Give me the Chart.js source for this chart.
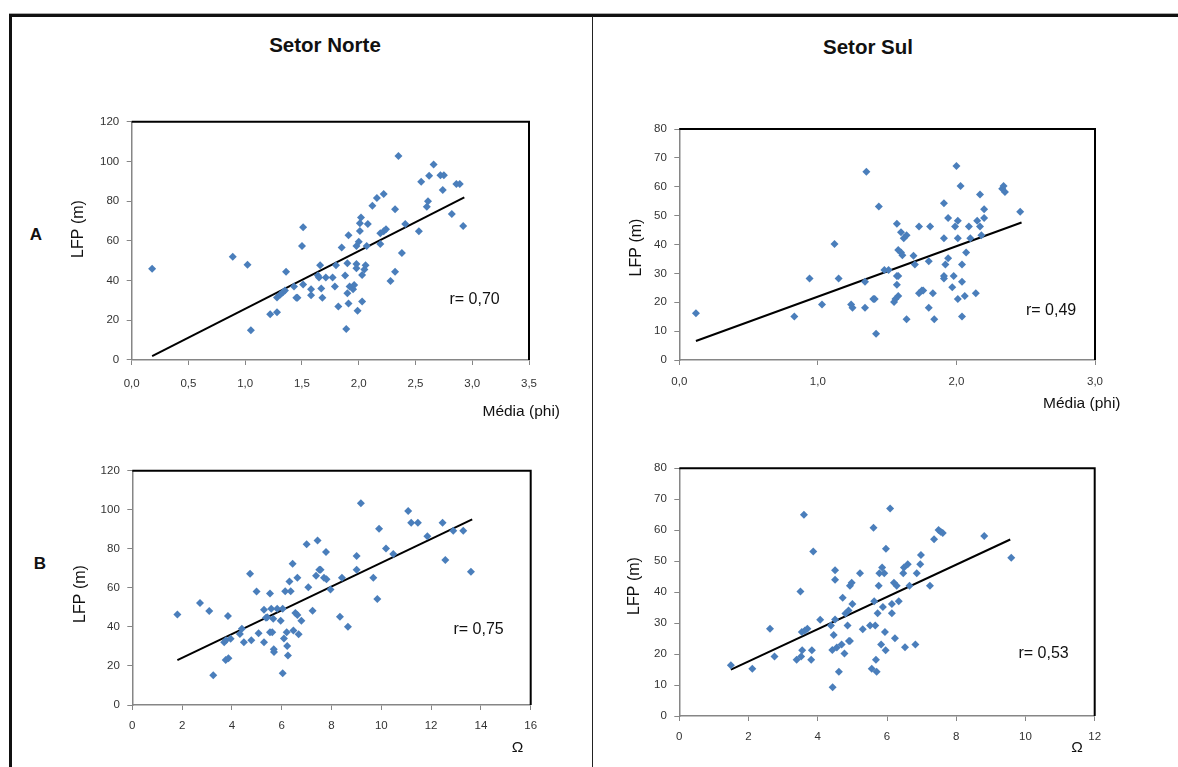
<!DOCTYPE html>
<html>
<head>
<meta charset="utf-8">
<script src="https://cdn.jsdelivr.net/npm/chart.js@4.4.0/dist/chart.umd.min.js"></script>
<style>
  body { margin: 0; background: #fff; }
  #page { position: relative; width: 1178px; height: 767px; overflow: hidden; background: #fff; font-family: 'Liberation Sans', Arial, sans-serif; }
  #page canvas { position: absolute; left: 0; top: 0; }
  .line { position: absolute; background: #111; }
  .title { position: absolute; font-weight: bold; font-size: 20.5px; color: #111; transform: translate(-50%, -50%); white-space: nowrap; }
  .row { position: absolute; font-weight: bold; font-size: 17px; color: #111; transform: translate(-50%, -50%); }
</style>
</head>
<body>
<div id="page">
  <div class="line" style="left:9px; top:13px; width:1169px; height:1px; background:#aaa;"></div>
  <div class="line" style="left:9px; top:14px; width:1169px; height:3px;"></div>
  <div class="line" style="left:9px; top:14px; width:3px; height:753px;"></div>
  <div class="line" style="left:592px; top:16px; width:1px; height:751px; background:#222;"></div>
  <div class="title" style="left:325px; top:45px;">Setor Norte</div>
  <div class="title" style="left:868px; top:47px;">Setor Sul</div>
  <div class="row" style="left:36px; top:235px;">A</div>
  <div class="row" style="left:40px; top:564px;">B</div>
  <canvas id="chartAN" width="1178" height="767"></canvas>
  <canvas id="chartAS" width="1178" height="767"></canvas>
  <canvas id="chartBN" width="1178" height="767"></canvas>
  <canvas id="chartBS" width="1178" height="767"></canvas>
</div>
<script>
// ---- data ----

// A / Setor Norte : Média (phi) vs LFP (m)
const norteMediaX = [
  0.18, 0.89, 1.02, 1.05, 1.22, 1.28, 1.28, 1.31, 1.33, 1.35,
  1.36, 1.43, 1.45, 1.46, 1.51, 1.50, 1.51, 1.58, 1.58, 1.64,
  1.65, 1.66, 1.67, 1.68, 1.71, 1.77, 1.79, 1.80, 1.82, 1.85,
  1.88, 1.89, 1.91, 1.90, 1.90, 1.91, 1.92, 1.95, 1.96, 1.98,
  1.98, 1.99, 1.98, 2.00, 2.01, 2.02, 2.01, 2.03, 2.03, 2.05,
  2.06, 2.07, 2.08, 2.12, 2.16, 2.19, 2.19, 2.22, 2.22, 2.24,
  2.28, 2.32, 2.32, 2.35, 2.38, 2.41, 2.53, 2.55, 2.60, 2.61,
  2.62, 2.66, 2.72, 2.75, 2.74, 2.82, 2.86, 2.89, 2.92
];
const norteMediaY = [
  46, 52, 48, 15, 23, 24, 31.5, 33, 34, 35,
  44.5, 37, 31.4, 31.4, 38, 57.4, 66.8, 35.6, 32.6, 42.5,
  41.5, 47.7, 36, 31.4, 41.5, 41.5, 37, 47.7, 27, 56.6,
  42.5, 15.6, 62.8, 33.6, 48.7, 28.5, 37, 35.6, 37.8, 48.3,
  46.2, 24.8, 57.4, 59.6, 68.8, 71.8, 65, 42.8, 29.5, 45.6,
  47.7, 57.4, 68.5, 77.7, 81.6, 58.4, 63.8, 83.6, 64.8, 65.8,
  39.8, 44.5, 75.9, 102.7, 53.9, 68.5, 64.8, 89.8, 77.2, 80,
  92.8, 98.5, 93, 93, 85.6, 73.5, 88.6, 88.6, 67.5
];
const norteMediaTrendX = [0.18, 2.93];
const norteMediaTrendY = [2, 81.9];

// A / Setor Sul : Média (phi) vs LFP (m)
const sulMediaX = [
  0.12, 0.83, 0.94, 1.03, 1.12, 1.15, 1.24, 1.25, 1.34, 1.34,
  1.35, 1.40, 1.41, 1.42, 1.44, 1.48, 1.51, 1.55, 1.56, 1.58,
  1.57, 1.58, 1.57, 1.57, 1.58, 1.60, 1.61, 1.60, 1.62, 1.64,
  1.64, 1.69, 1.70, 1.73, 1.73, 1.75, 1.76, 1.80, 1.80, 1.81,
  1.83, 1.84, 1.91, 1.91, 1.91, 1.91, 1.92, 1.94, 1.94, 1.97,
  1.98, 1.99, 2.00, 2.01, 2.01, 2.01, 2.03, 2.04, 2.04, 2.04,
  2.06, 2.07, 2.09, 2.10, 2.14, 2.15, 2.17, 2.17, 2.18, 2.20,
  2.20, 2.33, 2.34, 2.35, 2.46
];
const sulMediaY = [
  16.2, 15.1, 28.2, 19.2, 40.2, 28.2, 19.2, 18.1, 18.1, 27.1,
  65.2, 21.1, 21.1, 9.1, 53.2, 31.2, 31.2, 20.1, 21.1, 22.2,
  29.1, 29.1, 26.1, 47.2, 38.1, 37.2, 36.3, 44.2, 42.2, 43.2,
  14.1, 36.1, 33.1, 46.2, 23.1, 24.1, 24.1, 34.2, 18.1, 46.2,
  23.1, 14.1, 54.3, 42.2, 29.1, 28.2, 33.1, 35.2, 49.2, 25.2,
  29.1, 46.2, 67.2, 48.2, 42.2, 21.1, 60.3, 15.1, 33.1, 27.1,
  22.2, 37.2, 46.2, 42.2, 23.1, 48.2, 57.3, 46.2, 43.2, 49.2,
  52.2, 59.3, 60.3, 58.2, 51.3
];
const sulMediaTrendX = [0.12, 2.47];
const sulMediaTrendY = [6.6, 47.6];

// B / Setor Norte : Ω vs LFP (m)
const norteOmegaX = [
  1.81, 2.72, 3.09, 3.25, 3.69, 3.75, 3.86, 3.84, 3.95, 3.76,
  4.32, 4.40, 4.48, 4.73, 4.78, 4.99, 5.07, 5.29, 5.29, 5.37,
  5.42, 5.53, 5.53, 5.58, 5.62, 5.66, 5.68, 5.69, 5.82, 5.96,
  6.04, 6.09, 6.04, 6.14, 6.20, 6.22, 6.25, 6.31, 6.36, 6.44,
  6.47, 6.55, 6.63, 6.63, 6.68, 6.79, 7.00, 7.07, 7.24, 7.38,
  7.44, 7.51, 7.56, 7.70, 7.78, 7.80, 7.96, 8.34, 8.42, 8.66,
  9.01, 9.01, 9.18, 9.68, 9.84, 9.91, 10.19, 10.48, 11.08, 11.20,
  11.47, 11.85, 12.46, 12.57, 12.89, 13.29, 13.60
];
const norteOmegaY = [
  46.3, 52.3, 48.2, 15.2, 32.1, 23.1, 23.9, 45.6, 33.9, 33.2,
  36.4, 39.1, 32.1, 67.2, 33.2, 58.1, 36.8, 48.8, 32.1, 44.7,
  45, 57.1, 37.2, 49.3, 37.2, 44.2, 28.5, 27.1, 49.3, 43.2,
  49.3, 34.1, 16.2, 58.2, 37.2, 30.2, 25.3, 63.3, 58.2, 72.4,
  38.2, 47.1, 65.2, 46.1, 36.2, 43.2, 82.3, 60.3, 48.3, 66.2,
  84.3, 69.3, 69.3, 65.2, 78.4, 64.4, 59.2, 45.2, 65.2, 40.1,
  76.3, 69.3, 103.3, 65.2, 54.3, 90.3, 80.2, 77.3, 99.4, 93.4,
  93.4, 86.4, 93.4, 74.3, 89.3, 89.3, 68.3
];
const norteOmegaTrendX = [1.81, 13.65];
const norteOmegaTrendY = [23.0, 95.1];

// B / Setor Sul : Ω vs LFP (m)
const sulOmegaX = [
  1.49, 2.11, 2.62, 2.75, 3.39, 3.50, 3.54, 3.55, 3.52, 3.60,
  3.63, 3.70, 3.83, 3.81, 3.87, 4.07, 4.38, 4.42, 4.43, 4.46,
  4.50, 4.50, 4.50, 4.55, 4.61, 4.69, 4.72, 4.77, 4.80, 4.86,
  4.89, 4.90, 4.93, 4.98, 4.93, 5.00, 5.22, 5.30, 5.51, 5.56,
  5.61, 5.63, 5.66, 5.68, 5.70, 5.73, 5.76, 5.78, 5.83, 5.86,
  5.88, 5.92, 5.94, 5.96, 5.97, 6.09, 6.14, 6.14, 6.20, 6.23,
  6.28, 6.34, 6.47, 6.49, 6.52, 6.60, 6.65, 6.82, 6.86, 6.96,
  6.98, 7.24, 7.36, 7.49, 7.55, 7.61, 8.81, 9.59
];
const sulOmegaY = [
  16.4, 15.3, 28.2, 19.2, 18.2, 40.2, 27.1, 21.2, 19.2, 65.0,
  27.6, 28.2, 21.2, 18.2, 53.1, 31.1, 29.2, 21.3, 9.3, 26.2,
  47.1, 44.0, 31.2, 22.1, 14.3, 23.1, 38.2, 20.2, 33.1, 29.2,
  34.1, 24.2, 42.1, 43.0, 24.2, 36.2, 46.1, 28.0, 29.2, 15.3,
  60.8, 37.1, 29.2, 18.2, 14.3, 33.2, 42.1, 46.1, 23.1, 48.0,
  35.2, 46.1, 27.1, 21.2, 54.0, 67.0, 36.2, 33.2, 43.0, 25.1,
  42.1, 37.1, 46.1, 48.0, 22.2, 49.0, 42.1, 23.1, 46.1, 49.0,
  52.0, 42.1, 57.1, 60.1, 59.5, 59.1, 58.1, 51.1
];
const sulOmegaTrendX = [1.49, 9.56];
const sulOmegaTrendY = [15.0, 57.0];

// ---- styling ----
const FONT = "'Liberation Sans', Arial, sans-serif";
const POINT_COLOR = '#4a7ebb';
const AXIS_COLOR = '#868686';

function toPoints(xs, ys) {
    return xs.map((x, i) => ({ x: x, y: ys[i] }));
}

// black frame on top/right of plot area + free text (axis titles, r values)
const panelPlugin = {
    id: 'panelText',
    afterDraw(chart, args, opts) {
        const ctx = chart.ctx;
        const a = chart.chartArea;
        ctx.save();
        ctx.strokeStyle = '#000';
        ctx.lineWidth = 2;
        ctx.beginPath();
        ctx.moveTo(a.left, a.top);
        ctx.lineTo(a.right, a.top);
        ctx.lineTo(a.right, a.bottom);
        ctx.stroke();
        ctx.fillStyle = '#111';
        ctx.textBaseline = 'middle';
        (opts.items || []).forEach(it => {
            ctx.save();
            ctx.font = it.size + 'px ' + FONT;
            ctx.translate(it.x, it.y);
            if (it.rotate) ctx.rotate(-Math.PI / 2);
            ctx.textAlign = it.align || 'center';
            ctx.fillText(it.text, 0, 0);
            ctx.restore();
        });
        ctx.restore();
    }
};

function makeChart(id, cfg) {
    const xFmt = cfg.decimals ? (v => v.toFixed(1).replace('.', ',')) : (v => String(v));
    new Chart(document.getElementById(id), {
        type: 'scatter',
        data: {
            datasets: [{
                data: toPoints(cfg.xs, cfg.ys),
                pointStyle: 'rectRot',
                pointRadius: 4,
                pointBorderWidth: 0,
                backgroundColor: POINT_COLOR,
                borderColor: POINT_COLOR
            }, {
                data: toPoints(cfg.trendX, cfg.trendY),
                showLine: true,
                pointRadius: 0,
                borderColor: '#000',
                borderWidth: 2
            }]
        },
        options: {
            responsive: false,
            animation: false,
            devicePixelRatio: 1,
            events: [],
            layout: { padding: cfg.padding },
            plugins: {
                legend: { display: false },
                tooltip: { enabled: false },
                panelText: { items: cfg.texts }
            },
            scales: {
                x: {
                    type: 'linear',
                    min: cfg.xMin, max: cfg.xMax,
                    ticks: { stepSize: cfg.xStep, callback: xFmt, color: '#333', padding: cfg.xTickPad,
                             font: { family: FONT, size: 11.5 }, maxRotation: 0, autoSkip: false },
                    grid: { drawOnChartArea: false, drawTicks: true, tickLength: 5, color: AXIS_COLOR },
                    border: { color: AXIS_COLOR, width: 1.5 },
                    afterFit(s) { s.height = 40; s.paddingLeft = 0; s.paddingRight = 0; }
                },
                y: {
                    type: 'linear',
                    min: 0, max: cfg.yMax,
                    ticks: { stepSize: cfg.yStep, color: '#333', padding: 7.5,
                             font: { family: FONT, size: 11.5 } },
                    grid: { drawOnChartArea: false, drawTicks: true, tickLength: 5, color: AXIS_COLOR },
                    border: { color: AXIS_COLOR, width: 1.5 },
                    afterFit(s) { s.width = 50; s.paddingTop = 0; s.paddingBottom = 0; }
                }
            }
        },
        plugins: [panelPlugin]
    });
}

makeChart('chartAN', {
    xs: norteMediaX, ys: norteMediaY, trendX: norteMediaTrendX, trendY: norteMediaTrendY,
    xMin: 0, xMax: 3.5, xStep: 0.5, decimals: true, yMax: 120, yStep: 20, xTickPad: 12,
    padding: { left: 81.7, right: 649, top: 121.7, bottom: 367 },
    texts: [
        { text: 'LFP (m)', x: 78.5, y: 229, size: 16, rotate: true },
        { text: 'Média (phi)', x: 560, y: 412, size: 15.5, align: 'right' },
        { text: 'r= 0,70', x: 449.5, y: 299.5, size: 16, align: 'left' }
    ]
});

makeChart('chartAS', {
    xs: sulMediaX, ys: sulMediaY, trendX: sulMediaTrendX, trendY: sulMediaTrendY,
    xMin: 0, xMax: 3, xStep: 1, decimals: true, yMax: 80, yStep: 10, xTickPad: 10,
    padding: { left: 629.3, right: 83, top: 129, bottom: 367 },
    texts: [
        { text: 'LFP (m)', x: 636.5, y: 247.5, size: 16, rotate: true },
        { text: 'Média (phi)', x: 1043, y: 404, size: 15.5, align: 'left' },
        { text: 'r= 0,49', x: 1026, y: 311, size: 16, align: 'left' }
    ]
});

makeChart('chartBN', {
    xs: norteOmegaX, ys: norteOmegaY, trendX: norteOmegaTrendX, trendY: norteOmegaTrendY,
    xMin: 0, xMax: 16, xStep: 2, decimals: false, yMax: 120, yStep: 20, xTickPad: 9,
    padding: { left: 82.3, right: 647.3, top: 470.7, bottom: 22 },
    texts: [
        { text: 'LFP (m)', x: 80.5, y: 594, size: 16, rotate: true },
        { text: 'Ω', x: 517.5, y: 748, size: 15.5 },
        { text: 'r= 0,75', x: 453.5, y: 629.5, size: 16, align: 'left' }
    ]
});

makeChart('chartBS', {
    xs: sulOmegaX, ys: sulOmegaY, trendX: sulOmegaTrendX, trendY: sulOmegaTrendY,
    xMin: 0, xMax: 12, xStep: 2, decimals: false, yMax: 80, yStep: 10, xTickPad: 9,
    padding: { left: 629.3, right: 83.3, top: 468.3, bottom: 11 },
    texts: [
        { text: 'LFP (m)', x: 635, y: 586, size: 16, rotate: true },
        { text: 'Ω', x: 1077, y: 748, size: 15.5 },
        { text: 'r= 0,53', x: 1018.5, y: 653.5, size: 16, align: 'left' }
    ]
});
</script>
</body>
</html>
